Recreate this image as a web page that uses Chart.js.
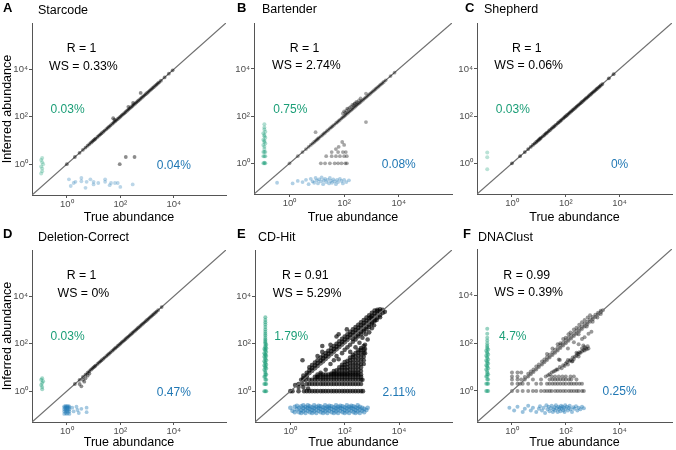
<!DOCTYPE html>
<html>
<head>
<meta charset="utf-8">
<script src="https://cdn.jsdelivr.net/npm/chart.js@4.4.1/dist/chart.umd.min.js"></script>
<style>
  body { margin: 0; background: #fff; }
  #wrap { position: relative; width: 676px; height: 450px; overflow: hidden; }
  canvas { position: absolute; }
</style>
</head>
<body>
<div id="wrap"></div>
<script>
// shared log axis range (about 10^-1.3 .. 10^5.95) and ticks
const axisMin = 0.05;
const axisMax = 890000;
const tickValues = [1, 100, 10000];
const tickLabels = ['10⁰', '10²', '10⁴'];

const panelLetters = ['A', 'B', 'C', 'D', 'E', 'F'];
const panelTitles = ['Starcode', 'Bartender', 'Shepherd', 'Deletion-Correct', 'CD-Hit', 'DNAClust'];
const corrR = ['1', '1', '1', '1', '0.91', '0.99'];
const wsPct = ['0.33%', '2.74%', '0.06%', '0%', '5.29%', '0.39%'];
const falsePosPct = ['0.03%', '0.75%', '0.03%', '0.03%', '1.79%', '4.7%'];
const missedPct = ['0.04%', '0.08%', '0%', '0.47%', '2.11%', '0.25%'];

// [true, inferred] pairs
const starcodeMatched = [[1,1],[2,2],[3,3],[4,4],[5,5],[6,6],[7,7],[8,8],[9,9],[10,10],[11,11],[12,12],[14,14],[16,16],[18,18],[20,20],[23,23],[26,26],[30,30],[34,34],[38,38],[43,43],[50,50],[56,56],[63,63],[70,70],[80,80],[90,90],[100,100],[112,112],[126,126],[141,141],[158,158],[178,178],[200,200],[224,224],[251,251],[282,282],[316,316],[355,355],[398,398],[447,447],[501,501],[562,562],[631,631],[708,708],[794,794],[891,891],[1000,1000],[1122,1122],[1259,1259],[1413,1413],[1585,1585],[1778,1778],[1995,1995],[2239,2239],[2512,2512],[2818,2818],[3300,3300],[4500,4500],[6500,6500],[9000,9000],
  [54,87],[60,75],[200,260],[300,380],[575,1000],[95,1],[160,2],[340,2]];
const starcodeFalsePos = [[0.12,1.8],[0.11,1.5],[0.12,1.2],[0.13,1],[0.11,0.8],[0.12,0.65],[0.12,0.5],[0.11,0.4]];
const starcodeMissed = [[1.2,0.23],[1.4,0.12],[1.8,0.16],[2.1,0.18],[3.5,0.26],[3.5,0.19],[5,0.1],[5.5,0.18],[7.6,0.23],[10,0.14],[10,0.18],[15,0.16],[27,0.23],[27,0.18],[40,0.13],[45,0.16],[63,0.16],[80,0.16],[100,0.11],[290,0.14]];

const bartenderMatched = [[1,1],[2,2],[3,3],[4,4],[5,5],[6,6],[7,7],[8,8],[9,9],[10,10],[11,11],[12,12],[14,14],[16,16],[18,18],[20,20],[23,23],[26,26],[30,30],[34,34],[38,38],[43,43],[50,50],[56,56],[63,63],[70,70],[80,80],[90,90],[100,100],[112,112],[126,126],[141,141],[158,158],[178,178],[200,200],[224,224],[251,251],[282,282],[316,316],[355,355],[398,398],[447,447],[501,501],[562,562],[631,631],[708,708],[794,794],[891,891],[1000,1000],[1122,1122],[1259,1259],[1413,1413],[1585,1585],[1778,1778],[1995,1995],[2239,2239],[2512,2512],[2818,2818],[3300,3300],[5000,5000],[7000,7000],
  [90,130],[100,160],[110,140],[120,170],[130,210],[140,200],[160,230],[180,250],[200,300],[220,290],[240,330],[250,350],[280,400],[300,380],[350,470],[400,560],[630,910],[9,21],[630,56],
  [14,1],[20,1],[30,1],[45,1],[60,1],[80,1],[110,1],[126,1],[22,2],[35,2],[50,2],[70,2],[100,2],[125,2],[35,3],[60,3],[90,3],[115,3],[85,8],[100,6],[63,5],[50,4]];
const bartenderFalsePos = [[0.12,1],[0.11,1],[0.13,1],[0.12,1.05],[0.12,2],[0.11,2],[0.13,2],[0.12,3],[0.11,3],[0.13,3],[0.12,4],[0.12,5],[0.11,6],[0.13,7],[0.12,8],[0.12,9],[0.11,10],[0.13,12],[0.12,14],[0.12,16],[0.11,19],[0.13,22],[0.12,27],[0.12,33],[0.12,45]];
const bartenderMissed = [[0.35,0.15],[1.3,0.14],[2,0.18],[3,0.16],[4,0.2],[5,0.13],[6,0.22],[7,0.17],[8,0.15],[9,0.24],[10,0.19],[11,0.14],[12,0.21],[14,0.17],[15,0.25],[17,0.13],[18,0.19],[20,0.22],[22,0.16],[25,0.2],[28,0.14],[30,0.24],[33,0.18],[36,0.15],[40,0.21],[45,0.17],[50,0.13],[55,0.2],[60,0.16],[70,0.22],[80,0.18],[90,0.14],[100,0.2],[120,0.16],[150,0.19]];

const shepherdMatched = [[1,1],[2,2],[3,3],[4,4],[5,5],[6,6],[7,7],[8,8],[9,9],[10,10],[11,11],[12,12],[14,14],[16,16],[18,18],[20,20],[23,23],[26,26],[30,30],[34,34],[38,38],[43,43],[50,50],[56,56],[63,63],[70,70],[80,80],[90,90],[100,100],[112,112],[126,126],[141,141],[158,158],[178,178],[200,200],[224,224],[251,251],[282,282],[316,316],[355,355],[398,398],[447,447],[501,501],[562,562],[631,631],[708,708],[794,794],[891,891],[1000,1000],[1122,1122],[1259,1259],[1413,1413],[1585,1585],[1778,1778],[1995,1995],[2300,2300],[4000,4000],[6000,6000]];
const shepherdFalsePos = [[0.12,2.9],[0.12,1.8],[0.12,0.56]];
const shepherdMissed = [];

const deletionMatched = [[2,2],[3,3],[4,4],[5,5],[6,6],[7,7],[8,8],[9,9],[10,10],[11,11],[12,12],[14,14],[16,16],[18,18],[20,20],[23,23],[26,26],[30,30],[34,34],[38,38],[43,43],[50,50],[56,56],[63,63],[70,70],[80,80],[90,90],[100,100],[112,112],[126,126],[141,141],[158,158],[178,178],[200,200],[224,224],[251,251],[282,282],[316,316],[355,355],[398,398],[447,447],[501,501],[562,562],[631,631],[708,708],[794,794],[891,891],[1000,1000],[1122,1122],[1259,1259],[1413,1413],[1585,1585],[1778,1778],[1995,1995],[2239,2239],[2600,2600],[3500,3500],
  [3,2],[3.5,1.6],[4,3],[4.5,2.5],[5,3.5],[6,4.5],[7,5.5]];
const deletionFalsePos = [[0.12,3.5],[0.11,3],[0.13,2.6],[0.12,2.2],[0.11,1.8],[0.12,1.5],[0.12,1.2]];
const deletionMissed = [[0.8,0.11],[0.8,0.14],[0.8,0.17],[0.8,0.2],[0.8,0.23],[0.9,0.12],[0.9,0.15],[0.9,0.18],[0.9,0.21],[0.9,0.24],[1,0.11],[1,0.14],[1,0.17],[1,0.2],[1,0.23],[1.1,0.12],[1.1,0.15],[1.1,0.18],[1.1,0.21],[1.1,0.24],[1.25,0.11],[1.25,0.14],[1.25,0.17],[1.25,0.2],[1.25,0.23],[1.6,0.2],[1.8,0.14],[2.3,0.22],[2.5,0.16],[2.8,0.12],[3.5,0.18],[5.5,0.2],[5.5,0.13]];

const cdhitMatched = [[1,1],[2,2],[2.5,3],[3,3],[4,4],
  [3,3.5],[3,4.5],[4,4.6],[4,6],[5,5.8],[5,7.5],[5,10],[6.3,7.3],[6.3,9.5],[6.3,12.6],[8,9.2],[8,12],[8,16],[10,11.5],[10,15],[10,20],[13,15],[13,19],[13,26],[16,18],[16,24],[16,32],[20,23],[20,30],[20,40],[25,29],[25,38],[25,50],[32,37],[32,48],[32,64],[40,46],[40,60],[40,80],[50,58],[50,75],[50,100],[63,72],[63,95],[63,126],[80,92],[80,120],[80,160],[100,115],[100,150],[100,200],[126,145],[126,190],[126,250],[158,180],[158,240],[158,316],[200,230],[200,300],[200,400],[200,160],[251,290],[251,380],[251,500],[251,200],[316,360],[316,470],[316,630],[316,250],[398,460],[398,600],[398,800],[398,320],[501,580],[501,750],[501,1000],[501,400],[631,730],[631,950],[631,1260],[631,500],[794,910],[794,1200],[794,1580],[794,630],[1000,1150],[1000,1500],[1000,2000],[1000,800],[1259,1450],[1259,1900],[1259,2500],[1259,1000],[1585,1820],[1585,2400],[1585,2700],[1585,1250],[1995,2300],[1995,2800],[1995,1600],[2512,2700],[2512,2000],
  [32,5.5],[40,5.5],[40,7],[50,5.5],[50,7.5],[63,5.5],[63,7.5],[63,10],[80,5.5],[80,7.5],[80,10],[80,13],[100,5.5],[100,7.5],[100,10],[100,13],[100,17],[126,5.5],[126,7.5],[126,10],[126,14],[126,19],[158,6],[158,8],[158,11],[158,15],[158,20],[158,26],[200,6],[200,8],[200,11],[200,15],[200,21],[200,28],[200,34],[251,6],[251,8],[251,11],[251,15],[251,21],[251,29],[251,40],[316,6],[316,8],[316,11],[316,15],[316,21],[316,30],[316,42],[316,53],[398,7],[398,10],[398,14],[398,20],[398,28],[398,40],[398,55],[398,66],[501,14],[501,20],[501,28],[501,40],[501,56],[501,80],[560,40],[560,60],[560,90],
  [10,4],[13,6],[20,8],[30,14],[40,20],[50,30],[60,22],[80,40],[100,55],[126,70],[158,90],[200,120],[251,150],[316,200],[400,250],[500,330],[630,400],[800,500],[1000,700],[1260,900],[700,150],[800,300],[1000,450],[1200,600],[600,250],[160,45],[250,70],[350,110],[450,180],[1500,1000],[2000,1300],[3000,2200],[900,1300],[3,1.5],[2,1.5],[1.5,1.8],[4.5,1.3],[50,200],[30,90],[60,250],[120,400],[10,30],[15,45],[2.8,20],[15,80]];
// true abundances of CD-Hit barcodes inferred at exactly 1..5 reads
const cdhitRow1 = [1.2, 2, 3.2, 4, 5, 6.3, 8, 10, 13, 16, 20, 25, 32, 40, 50, 63, 80, 100, 126, 158, 200, 251, 316, 400, 470];
const cdhitRow2 = [2.8, 4, 5, 6.3, 8, 10, 13, 16, 20, 25, 32, 40, 50, 63, 80, 100, 126, 158, 200, 251, 316, 400];
const cdhitRow3 = [3.7, 5, 6.3, 8, 10, 13, 16, 20, 25, 32, 40, 50, 63, 80, 100, 126, 158, 200, 251, 316, 400, 450];
const cdhitRow4 = [8, 10, 13, 16, 20, 25, 32, 40, 50, 63, 80, 100, 126, 158, 200, 251, 316, 400];
const cdhitRow5 = [10, 13, 16, 20, 25, 32, 40, 50, 63, 80, 100, 126, 158, 200, 251, 316, 400];
const cdhitFalsePos = [[0.12,1],[0.11,1],[0.13,1],[0.12,2],[0.11,2],[0.13,2],[0.12,3],[0.13,3],[0.12,4],[0.11,4],[0.12,5],[0.13,5],[0.12,6],[0.12,7],[0.11,8],[0.13,9],[0.12,10],[0.12,11],[0.11,12],[0.13,13],[0.12,15],[0.12,16],[0.11,18],[0.13,20],[0.12,22],[0.12,25],[0.11,28],[0.13,30],[0.12,33],[0.12,36],[0.11,40],[0.13,45],[0.12,50],[0.12,55],[0.11,60],[0.13,65],[0.12,70],[0.12,80],[0.13,90],[0.12,100],[0.12,115],[0.12,130],[0.12,150],[0.12,180],[0.12,220],[0.12,260],[0.12,320],[0.12,400],[0.12,500],[0.12,650],[0.12,800],[0.12,1000],[0.12,1300]];
const cdhitMissed = [[1,0.2],[1.2,0.15],[1.45,0.22],[1.45,0.13],[1.75,0.17],[1.75,0.24],[2.1,0.13],[2.1,0.2],[2.5,0.16],[2.5,0.23],[2.5,0.12],[3,0.19],[3,0.14],[3,0.25],[3.6,0.12],[3.6,0.17],[3.6,0.22],[4.4,0.15],[4.4,0.2],[4.4,0.25],[5.2,0.13],[5.2,0.18],[5.2,0.23],[6.3,0.12],[6.3,0.16],[6.3,0.21],[7.5,0.14],[7.5,0.19],[7.5,0.25],[9,0.12],[9,0.17],[9,0.22],[11,0.15],[11,0.2],[11,0.24],[13,0.13],[13,0.18],[13,0.23],[16,0.12],[16,0.16],[16,0.21],[19,0.14],[19,0.19],[19,0.25],[23,0.12],[23,0.17],[23,0.22],[27,0.15],[27,0.2],[27,0.24],[33,0.13],[33,0.18],[33,0.23],[40,0.12],[40,0.16],[40,0.21],[48,0.14],[48,0.19],[48,0.25],[57,0.12],[57,0.17],[57,0.22],[69,0.15],[69,0.2],[69,0.24],[83,0.13],[83,0.18],[83,0.23],[100,0.12],[100,0.16],[100,0.21],[120,0.14],[120,0.19],[120,0.25],[145,0.12],[145,0.17],[145,0.22],[175,0.15],[175,0.2],[175,0.24],[210,0.13],[210,0.18],[210,0.23],[250,0.12],[250,0.16],[250,0.21],[300,0.14],[300,0.19],[300,0.25],[360,0.12],[360,0.17],[360,0.22],[440,0.15],[440,0.2],[520,0.13],[520,0.18],[630,0.16],[700,0.2]];

const dnaclustMatched = [[1,1],[2,2],[3,3],[4,4],[5,5],[6.3,6.3],[8,8],[10,10],[13,13],[16,16],[20,20],[25,25],[32,32],[40,40],[50,50],[63,63],[80,80],[100,100],[126,126],[158,158],[200,200],[251,251],[316,316],[398,398],[501,501],[631,631],[794,794],[1000,1000],[1259,1259],[1585,1585],[1995,1995],[2400,2400],
  [3,3.8],[4,5.2],[5,6.5],[6.3,8],[8,10.5],[10,13],[13,17],[16,21],[20,26],[25,33],[32,42],[40,53],[50,66],[63,84],[80,105],[100,135],[126,170],[158,210],[200,270],[251,330],[316,420],[398,520],[501,650],[631,800],[794,1000],[1000,1250],[1259,1550],[1585,1900],[1995,2300],[20,35],[32,60],[50,90],[80,150],[126,240],[200,380],[316,600],[501,950],[800,1500],[63,100],[100,170],[150,280],[250,450],[400,750],[650,1200],[1000,800],[1500,1200],[600,500],[2000,1700],[300,240],
  [1,2],[1,3],[1,4],[1,6],[1.6,2],[1.6,3],[1.6,4],[1.6,6],[2.2,3],[2.2,6],
  [18,4],[22,4.5],[25,5],[30,6],[35,6.5],[40,7],[45,8],[50,8],[60,10],[70,9],[80,12],[90,11],[100,14],[110,16],[120,13],[140,18],[150,20],[170,17],[180,25],[200,22],[220,28],[250,30],[270,36],[300,35],[320,42],[350,40],[400,45],[400,60],[450,52],[500,50],[500,70],[550,62],[600,56],[650,75],[700,60],[250,40],[180,18],[120,20],[300,28],[450,80],
  [60,20],[120,60],[200,110],[400,150],[300,90],[500,180],[700,250],[900,300],[55,21]];
const dnaclustRow1 = [1.6, 2.5, 4, 6, 8, 12, 16, 20, 25, 30, 40, 50, 63, 80, 100, 130, 160, 200, 250, 300, 400, 470];
const dnaclustRow2 = [2.5, 4, 8, 12, 20, 25, 32, 40, 50, 63, 80, 100, 130, 160, 200, 250, 320, 400];
const dnaclustRow3 = [6, 12, 25, 32, 40, 50, 63, 80, 100, 130, 160, 250];
const dnaclustRow4 = [30, 40, 55, 75, 100, 150, 200];
const dnaclustFalsePos = [[0.12,1],[0.11,1],[0.13,1],[0.12,2],[0.11,2],[0.13,2],[0.12,3],[0.13,3],[0.12,4],[0.11,4],[0.12,5],[0.13,5],[0.12,6],[0.12,7],[0.11,8],[0.13,9],[0.12,10],[0.12,11],[0.11,12],[0.13,14],[0.12,15],[0.12,17],[0.11,19],[0.13,21],[0.12,24],[0.12,27],[0.11,30],[0.13,34],[0.12,38],[0.12,43],[0.11,48],[0.13,55],[0.12,60],[0.12,70],[0.12,80],[0.12,100],[0.12,130],[0.12,170],[0.12,250],[0.12,400]];
const dnaclustMissed = [[0.8,0.2],[1.2,0.15],[1.6,0.22],[2.5,0.13],[3,0.18],[4,0.24],[5,0.15],[6,0.2],[8,0.13],[10,0.18],[11,0.23],[13,0.15],[15,0.2],[17,0.12],[19,0.25],[21,0.17],[23,0.22],[25,0.14],[28,0.19],[30,0.24],[33,0.13],[35,0.17],[38,0.21],[40,0.15],[43,0.25],[46,0.19],[50,0.13],[53,0.22],[56,0.17],[60,0.2],[63,0.14],[67,0.24],[71,0.18],[75,0.22],[80,0.15],[85,0.2],[90,0.13],[95,0.25],[100,0.18],[110,0.22],[120,0.15],[130,0.2],[140,0.24],[150,0.17],[170,0.13],[190,0.21],[210,0.18],[240,0.23],[270,0.15],[300,0.2],[350,0.17],[400,0.22],[470,0.19]];

function onRow(inferred, trues) {
  return trues.map(t => [t, inferred]);
}

const matchedSets = [
  starcodeMatched, bartenderMatched, shepherdMatched, deletionMatched,
  cdhitMatched.concat(onRow(1, cdhitRow1), onRow(2, cdhitRow2), onRow(3, cdhitRow3), onRow(4, cdhitRow4), onRow(5, cdhitRow5)),
  dnaclustMatched.concat(onRow(1, dnaclustRow1), onRow(2, dnaclustRow2), onRow(3, dnaclustRow3), onRow(4, dnaclustRow4))
];
const falsePosSets = [starcodeFalsePos, bartenderFalsePos, shepherdFalsePos, deletionFalsePos, cdhitFalsePos, dnaclustFalsePos];
const missedSets = [starcodeMissed, bartenderMissed, shepherdMissed, deletionMissed, cdhitMissed, dnaclustMissed];

// panel placement on the page (pixels) and point look per panel
const layouts = [
  { left: 0,   top: 0,   width: 230, yW: 32, padTop: 23, padRight: 1, xH: 30, yTitle: true,  letterX: 3, letterY: 8, titleX: 38, titleY: 11, dotA: 0.45, dotR: 1.9, sideA: 0.3,  lineOnTop: false },
  { left: 230, top: 0,   width: 226, yW: 24, padTop: 23, padRight: 2, xH: 31, yTitle: false, letterX: 7, letterY: 8, titleX: 32, titleY: 10, dotA: 0.35, dotR: 1.9, sideA: 0.35, lineOnTop: false },
  { left: 456, top: 0,   width: 220, yW: 21, padTop: 23, padRight: 1, xH: 31, yTitle: false, letterX: 9, letterY: 8, titleX: 28, titleY: 10, dotA: 0.5,  dotR: 1.9, sideA: 0.3,  lineOnTop: false },
  { left: 0,   top: 225, width: 230, yW: 32, padTop: 25, padRight: 1, xH: 28, yTitle: true,  letterX: 3, letterY: 9, titleX: 38, titleY: 13, dotA: 0.45, dotR: 1.9, sideA: 0.4,  lineOnTop: false },
  { left: 230, top: 225, width: 226, yW: 25, padTop: 25, padRight: 2, xH: 28, yTitle: false, letterX: 7, letterY: 9, titleX: 28, titleY: 13, dotA: 0.65, dotR: 2.3, sideA: 0.5,  lineOnTop: true },
  { left: 456, top: 225, width: 220, yW: 21, padTop: 24, padRight: 1, xH: 28, yTitle: false, letterX: 7, letterY: 9, titleX: 22, titleY: 13, dotA: 0.4,  dotR: 2,   sideA: 0.45, lineOnTop: true }
];

const fontFamily = '"Liberation Sans", Arial, Helvetica, sans-serif';
Chart.defaults.font.family = fontFamily;

const green = '27,158,119';
const blue = '31,119,180';

// titles and percentage labels
const panelText = {
  id: 'panelText',
  afterDraw(chart, args, o) {
    const ctx = chart.ctx;
    const xs = chart.scales.x;
    const ys = chart.scales.y;
    ctx.save();
    ctx.textBaseline = 'middle';
    ctx.textAlign = 'left';
    ctx.fillStyle = '#000';
    ctx.font = 'bold 13px ' + fontFamily;
    ctx.fillText(o.letter, o.letterX, o.letterY);
    ctx.font = '12.5px ' + fontFamily;
    ctx.fillText(o.title, o.titleX, o.titleY);
    ctx.textAlign = 'center';
    ctx.font = '12.3px ' + fontFamily;
    ctx.fillText('R = ' + o.r, xs.getPixelForValue(Math.pow(10, 0.55)), ys.getPixelForValue(Math.pow(10, 4.85)));
    ctx.fillText('WS = ' + o.ws, xs.getPixelForValue(Math.pow(10, 0.62)), ys.getPixelForValue(Math.pow(10, 4.13)));
    ctx.font = '12px ' + fontFamily;
    ctx.fillStyle = 'rgb(' + green + ')';
    ctx.fillText(o.fp, xs.getPixelForValue(Math.pow(10, 0.03)), ys.getPixelForValue(Math.pow(10, 2.28)));
    ctx.fillStyle = 'rgb(' + blue + ')';
    ctx.fillText(o.missed, xs.getPixelForValue(10000), ys.getPixelForValue(Math.pow(10, -0.05)));
    ctx.restore();
  }
};

function toPoints(pairs) {
  return pairs.map(p => ({ x: p[0], y: p[1] }));
}

function axis(title, showTitle, fitter) {
  return {
    type: 'logarithmic',
    min: axisMin,
    max: axisMax,
    afterBuildTicks: s => { s.ticks = tickValues.map(v => ({ value: v })); },
    afterFit: fitter,
    border: { display: true, color: '#555', width: 1 },
    grid: { drawOnChartArea: false, drawTicks: true, tickLength: 3, color: '#555', lineWidth: 1 },
    ticks: {
      autoSkip: false,
      maxRotation: 0,
      padding: 1,
      color: '#4d4d4d',
      font: { size: 9.5 },
      callback: (v, i) => tickLabels[i]
    },
    title: { display: showTitle, text: title, color: '#000', padding: 0, font: { size: 12.5 } }
  };
}

const wrap = document.getElementById('wrap');
layouts.forEach((p, i) => {
  const canvas = document.createElement('canvas');
  canvas.width = p.width;
  canvas.height = 225;
  canvas.style.left = p.left + 'px';
  canvas.style.top = p.top + 'px';
  wrap.appendChild(canvas);

  new Chart(canvas.getContext('2d'), {
    type: 'scatter',
    data: {
      datasets: [
        {
          type: 'line',
          data: [{ x: axisMin, y: axisMin }, { x: axisMax, y: axisMax }],
          borderColor: '#707070',
          borderWidth: 1.3,
          pointRadius: 0,
          order: p.lineOnTop ? 0 : 9
        },
        {
          data: toPoints(matchedSets[i]),
          backgroundColor: 'rgba(0,0,0,' + p.dotA + ')',
          borderWidth: 0,
          pointRadius: p.dotR,
          order: 1
        },
        {
          data: toPoints(falsePosSets[i]),
          backgroundColor: 'rgba(' + green + ',' + p.sideA + ')',
          borderWidth: 0,
          pointRadius: 2,
          order: 2
        },
        {
          data: toPoints(missedSets[i]),
          backgroundColor: 'rgba(' + blue + ',' + p.sideA + ')',
          borderWidth: 0,
          pointRadius: p.dotR,
          order: 3
        }
      ]
    },
    options: {
      responsive: false,
      animation: false,
      devicePixelRatio: 1,
      layout: { padding: { top: p.padTop, right: p.padRight, left: 0, bottom: 0 } },
      plugins: {
        legend: { display: false },
        tooltip: { enabled: false },
        panelText: {
          letter: panelLetters[i], title: panelTitles[i],
          letterX: p.letterX, letterY: p.letterY, titleX: p.titleX, titleY: p.titleY,
          r: corrR[i], ws: wsPct[i], fp: falsePosPct[i], missed: missedPct[i]
        }
      },
      scales: {
        x: axis('True abundance', true, s => { s.height = p.xH; }),
        y: axis('Inferred abundance', p.yTitle, s => { s.width = p.yW; })
      }
    },
    plugins: [panelText]
  });
});
</script>
</body>
</html>
